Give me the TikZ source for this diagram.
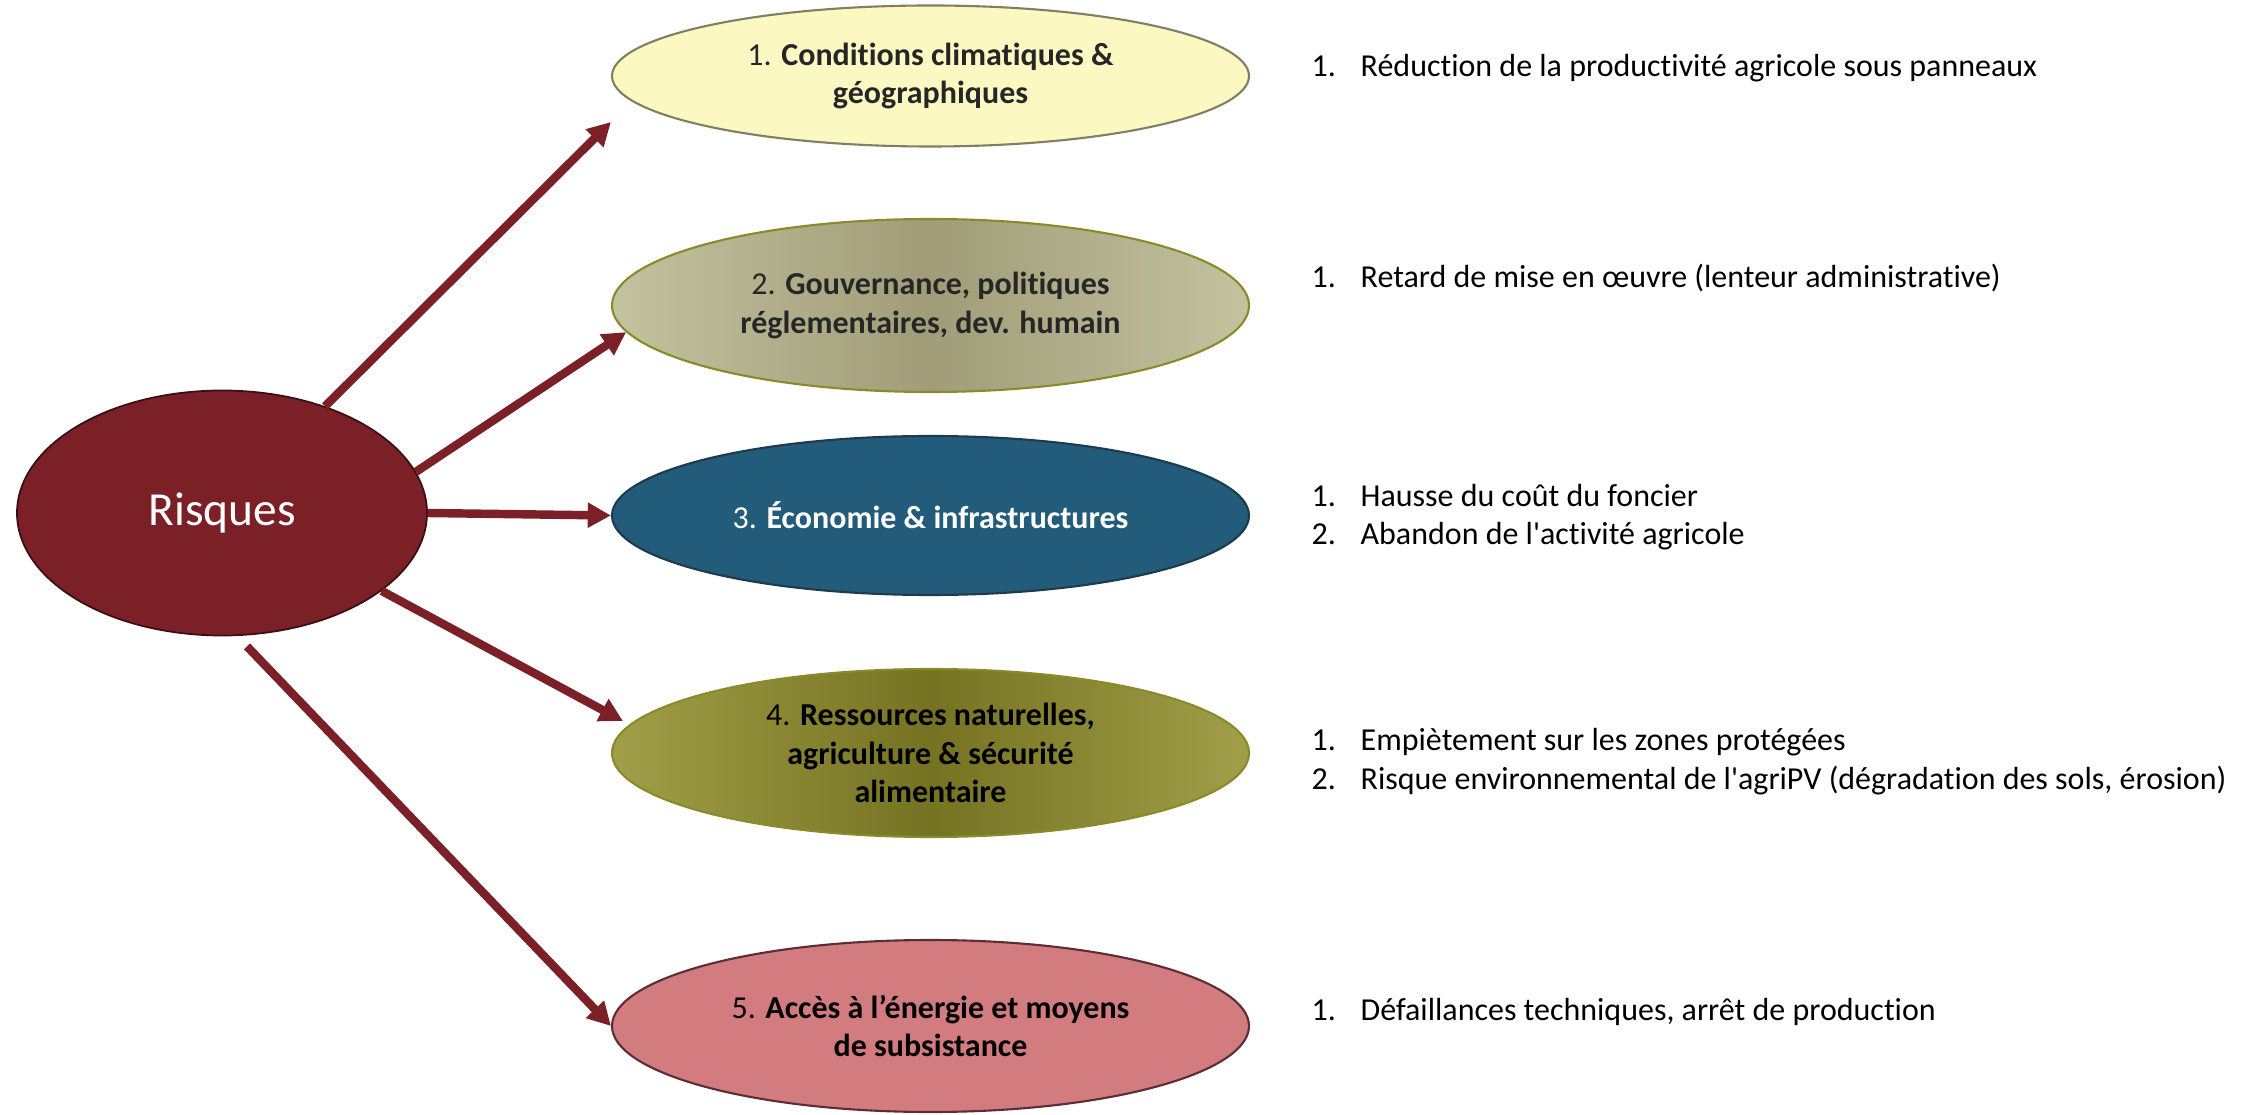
\documentclass[tikz,border=0pt]{standalone}
\usepackage{fontspec}
\setmainfont{Carlito}[Ligatures={TeX,NoCommon}]
\usepackage{tikz}
\usetikzlibrary{shapes.geometric, arrows.meta, calc}

\definecolor{riskred}{HTML}{7B2027}
\definecolor{riskline}{HTML}{3A0F12}
\definecolor{climfill}{HTML}{FBF9C1}
\definecolor{climline}{HTML}{7F7F62}
\definecolor{govedge}{HTML}{C3C39F}
\definecolor{govmid}{HTML}{A09C78}
\definecolor{oliveline}{HTML}{8A8A2A}
\definecolor{ecofill}{HTML}{235B7A}
\definecolor{ecoline}{HTML}{1E3B4E}
\definecolor{resedge}{HTML}{A19F48}
\definecolor{resmid}{HTML}{757222}
\definecolor{enerfill}{HTML}{D27C80}
\definecolor{enerline}{HTML}{5C2E33}
\definecolor{darktext}{HTML}{262626}

\begin{document}
\begin{tikzpicture}[%
        risk/.style={ellipse, draw=riskline, fill=riskred, line width=0.5pt, minimum width=4.10cm, minimum height=2.45cm, inner sep=0pt, text=white, font=\fontsize{13.5pt}{16pt}\selectfont},
        theme/.style={ellipse, line width=0.6pt, minimum width=6.37cm, inner sep=0pt, align=center, font=\fontsize{9.1pt}{10.9pt}\selectfont},
        item/.style={anchor=west, align=left, inner sep=0pt, font=\fontsize{9.1pt}{10.9pt}\selectfont},
        arrow/.style={-{Triangle[length=6.6pt, width=6.8pt]}, line width=2.4pt, riskred}%
    ]
        \useasboundingbox (0,0) rectangle (22.52,-11.15);

        \node[risk] (risk) at (2.22, -5.13) {Risques};

        \node[theme, draw=climline, fill=climfill, text=darktext, minimum height=1.41cm] (clim) at (9.305, -0.76) {1. \textbf{Conditions climatiques \&}\\\textbf{géographiques}};
        \node[theme, draw=oliveline, left color=govedge, right color=govedge, middle color=govmid, text=darktext, minimum height=1.73cm] (gov) at (9.305, -3.055) {2. \textbf{Gouvernance, politiques}\\\textbf{réglementaires, dev. humain}};
        \node[theme, draw=ecoline, fill=ecofill, text=white, minimum height=1.59cm] (eco) at (9.305, -5.155) {3. \textbf{Économie \& infrastructures}};
        \node[theme, draw=oliveline, left color=resedge, right color=resedge, middle color=resmid, text=black, minimum height=1.68cm] (res) at (9.305, -7.53) {4. \textbf{Ressources naturelles,}\\\textbf{agriculture \& sécurité}\\\textbf{alimentaire}};
        \node[theme, draw=enerline, fill=enerfill, text=black, minimum height=1.72cm] (ener) at (9.305, -10.26) {5. \textbf{Accès à l’énergie et moyens}\\\textbf{de subsistance}};

        \node[item] (climtxt) at (13.11, -0.68) {\makebox[0.49cm][l]{1.}Réduction de la productivité agricole sous panneaux};
        \node[item] (govtxt) at (13.11, -2.78) {\makebox[0.49cm][l]{1.}Retard de mise en œuvre (lenteur administrative)};
        \node[item] (ecotxt) at (13.11, -5.17) {\makebox[0.49cm][l]{1.}Hausse du coût du foncier\\\makebox[0.49cm][l]{2.}Abandon de l\textquotesingle activité agricole};
        \node[item] (restxt) at (13.11, -7.615) {\makebox[0.49cm][l]{1.}Empiètement sur les zones protégées\\\makebox[0.49cm][l]{2.}Risque environnemental de l\textquotesingle agriPV (dégradation des sols, érosion)};
        \node[item] (enertxt) at (13.11, -10.12) {\makebox[0.49cm][l]{1.}Défaillances techniques, arrêt de production};

        \draw[arrow] (risk.46) -- ($(clim.west)+(0,-0.46)$);
        \draw[arrow] (risk.12) -- (gov.185);
        \draw[arrow] (risk.east) -- (eco.west);
        \draw[arrow] (risk.-26) -- ($(res.west)+(0.12,0.32)$);
        \draw[arrow] ($(risk.south)+(0.25,-0.1)$) -- (ener.west);
    \end{tikzpicture}
\end{document}
